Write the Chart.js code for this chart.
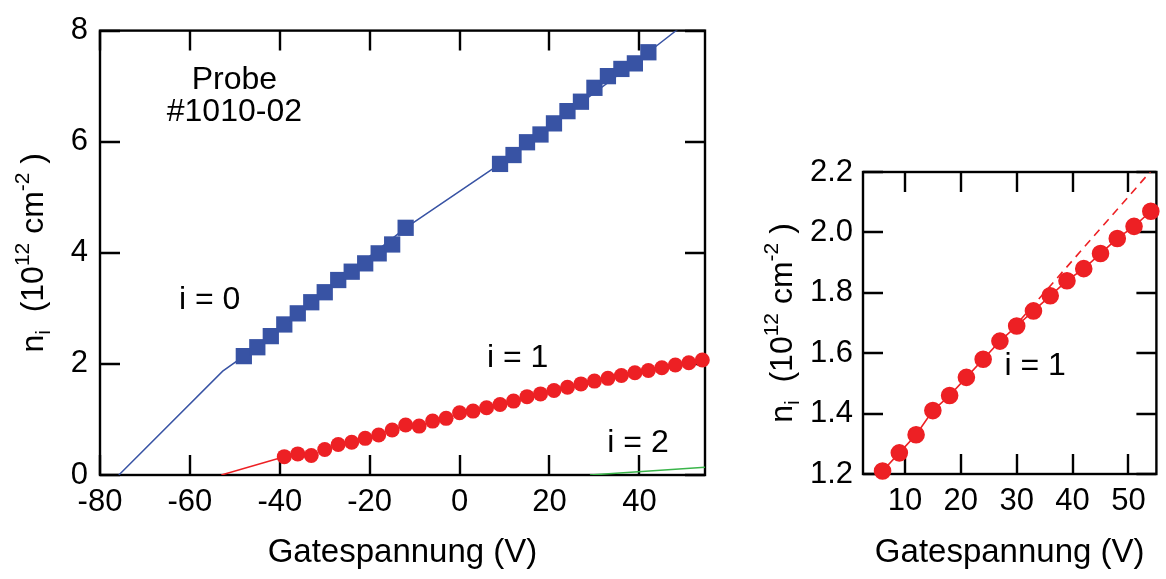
<!DOCTYPE html>
<html>
<head>
<meta charset="utf-8">
<script src="https://cdn.jsdelivr.net/npm/chart.js@4.4.1/dist/chart.umd.min.js"></script>
<style>
  body { margin: 0; background: #fff; }
  #wrap { position: relative; width: 1166px; height: 579px; }
  canvas { position: absolute; top: 0; }
  #left { left: 0; }
  #right { left: 730px; }
</style>
</head>
<body>
<div id="wrap">
  <canvas id="left" width="730" height="579"></canvas>
  <canvas id="right" width="436" height="579"></canvas>
</div>
<script>
// i = 0 (squares)
const i0X = [-48, -45, -42, -39, -36, -33, -30, -27, -24, -21, -18, -15, -12,
  9, 12, 15, 18, 21, 24, 27, 30, 33, 36, 39, 42];
const i0Y = [2.14, 2.30, 2.50, 2.71, 2.91, 3.11, 3.29, 3.51, 3.66, 3.81, 3.99, 4.15, 4.45,
  5.60, 5.76, 5.99, 6.13, 6.33, 6.55, 6.72, 6.97, 7.18, 7.31, 7.41, 7.61];
// model curve for i = 0
const i0LineX = [-75.8, -52.7, -48, -12, 9, 42, 48.5];
const i0LineY = [0, 1.87, 2.14, 4.45, 5.60, 7.61, 8.02];

// i = 1 (circles)
const i1X = [-39, -36, -33, -30, -27, -24, -21, -18, -15, -12, -9, -6, -3, 0, 3,
  6, 9, 12, 15, 18, 21, 24, 27, 30, 33, 36, 39, 42, 45, 48, 51, 54];
const i1Y = [0.33, 0.38, 0.35, 0.46, 0.55, 0.59, 0.66, 0.72, 0.81, 0.90, 0.88, 0.97, 1.02, 1.12, 1.15,
  1.21, 1.27, 1.33, 1.41, 1.46, 1.52, 1.58, 1.64, 1.69, 1.74, 1.79, 1.84, 1.88, 1.93, 1.98, 2.02, 2.07];
const i1LineX = [-53, -39];
const i1LineY = [0, 0.33];
// linear extrapolation (dashed, right panel)
const i1FitX = [29, 55];
const i1FitY = [1.675, 2.224];

// i = 2
const i2LineX = [29, 55];
const i2LineY = [0, 0.14];

// axes
const leftXTicks = [-80, -60, -40, -20, 0, 20, 40];
const leftYTicks = [0, 2, 4, 6, 8];
const rightXTicks = [10, 20, 30, 40, 50];
const rightYTicks = [1.2, 1.4, 1.6, 1.8, 2.0, 2.2];

const BLUE = "#3853a4";
const RED = "#ed2024";
const GREEN = "#3ab54a";
const FONT = "'Liberation Sans', Arial, Helvetica, sans-serif";

const pts = (xs, ys) => xs.map((x, k) => ({ x: x, y: ys[k] }));

// frame with inward ticks on all four sides, axis title with sub/superscripts, labels
const framePlugin = {
  id: "frame",
  beforeDatasetsDraw(chart, args, opts) {
    const { ctx, chartArea: a, scales } = chart;
    ctx.save();
    ctx.strokeStyle = "#000";
    ctx.lineWidth = 2.4;
    ctx.strokeRect(a.left, a.top, a.right - a.left, a.bottom - a.top);
    ctx.beginPath();
    scales.x.ticks.forEach((t) => {
      const px = Math.round(scales.x.getPixelForValue(t.value));
      ctx.moveTo(px, a.bottom);
      ctx.lineTo(px, a.bottom - 20);
      ctx.moveTo(px, a.top);
      ctx.lineTo(px, a.top + 20);
    });
    scales.y.ticks.forEach((t) => {
      const py = Math.round(scales.y.getPixelForValue(t.value));
      ctx.moveTo(a.left, py);
      ctx.lineTo(a.left + 20, py);
      ctx.moveTo(a.right, py);
      ctx.lineTo(a.right - 20, py);
    });
    ctx.stroke();
    ctx.restore();
  },
  afterDraw(chart, args, opts) {
    const { ctx, chartArea: a, scales } = chart;
    ctx.save();
    ctx.fillStyle = "#000";
    ctx.textAlign = "center";
    ctx.textBaseline = "middle";
    ctx.font = "32px " + FONT;
    (opts.notes || []).forEach((n) => {
      ctx.fillText(n.text, scales.x.getPixelForValue(n.x), scales.y.getPixelForValue(n.y));
    });

    // y title: n_i (10^12 cm^-2)
    const parts = [
      { t: "n", s: 32, dy: 0 },
      { t: "i", s: 21, dy: 7 },
      { t: "  (10", s: 32, dy: 0 },
      { t: "12", s: 21, dy: -14 },
      { t: " cm", s: 32, dy: 0 },
      { t: "-2", s: 21, dy: -14 },
      { t: " )", s: 32, dy: 0 },
    ];
    ctx.textAlign = "left";
    ctx.textBaseline = "alphabetic";
    let total = 0;
    parts.forEach((p) => {
      ctx.font = p.s + "px " + FONT;
      p.w = ctx.measureText(p.t).width;
      total += p.w;
    });
    ctx.translate(a.left - opts.titleOffset, (a.top + a.bottom) / 2);
    ctx.rotate(-Math.PI / 2);
    let cx = -total / 2;
    parts.forEach((p) => {
      ctx.font = p.s + "px " + FONT;
      ctx.fillText(p.t, cx, p.dy);
      cx += p.w;
    });
    ctx.restore();
  },
};

function axisX(min, max, ticks) {
  return {
    type: "linear",
    min: min,
    max: max,
    afterBuildTicks: (s) => { s.ticks = ticks.map((v) => ({ value: v })); },
    grid: { display: false, drawTicks: false },
    border: { display: false },
    ticks: { color: "#000", font: { family: FONT, size: 31 }, padding: 9, maxRotation: 0 },
    title: { display: true, text: "Gatespannung (V)", color: "#000",
      font: { family: FONT, size: 33 }, padding: { top: 0, bottom: 6 } },
  };
}

function axisY(min, max, ticks, fmt, pad) {
  return {
    type: "linear",
    min: min,
    max: max,
    afterBuildTicks: (s) => { s.ticks = ticks.map((v) => ({ value: v })); },
    grid: { display: false, drawTicks: false },
    border: { display: false },
    ticks: { color: "#000", font: { family: FONT, size: 31 }, padding: pad, callback: fmt },
  };
}

const leftChart = new Chart(document.getElementById("left"), {
  type: "scatter",
  data: {
    datasets: [
      { data: pts(i0X, i0Y), pointStyle: "rect", pointRadius: 11.5, backgroundColor: BLUE,
        borderWidth: 0, showLine: false, clip: false },
      { data: pts(i1X, i1Y), pointRadius: 7.5, backgroundColor: RED, borderColor: RED,
        borderWidth: 0, showLine: true, clip: false },
      { data: pts(i0LineX, i0LineY), showLine: true, pointRadius: 0, borderColor: BLUE, borderWidth: 1.5 },
      { data: pts(i1LineX, i1LineY), showLine: true, pointRadius: 0, borderColor: RED, borderWidth: 1.5 },
      { data: pts(i2LineX, i2LineY), showLine: true, pointRadius: 0, borderColor: GREEN, borderWidth: 1.5 },
    ],
  },
  options: {
    responsive: false,
    animation: false,
    events: [],
    layout: { padding: { top: 22, right: 25, bottom: 0, left: 0 } },
    plugins: {
      legend: { display: false },
      tooltip: { enabled: false },
      frame: {
        titleOffset: 57,
        notes: [
          { text: "Probe", x: -50.1, y: 7.11 },
          { text: "#1010-02", x: -50.1, y: 6.54 },
          { text: "i = 0", x: -55.6, y: 3.15 },
          { text: "i = 1", x: 12.9, y: 2.10 },
          { text: "i = 2", x: 39.7, y: 0.58 },
        ],
      },
    },
    scales: {
      x: Object.assign(axisX(-80, 54.6, leftXTicks), { afterFit: (s) => { s.height = 104; } }),
      y: Object.assign(axisY(0, 8, leftYTicks, (v) => v, 12), { afterFit: (s) => { s.width = 100; } }),
    },
  },
  plugins: [framePlugin],
});

const rightChart = new Chart(document.getElementById("right"), {
  type: "scatter",
  data: {
    datasets: [
      { data: pts(i1X, i1Y).filter((p) => p.x >= 6), pointRadius: 8, backgroundColor: RED,
        borderColor: RED, borderWidth: 1.6, showLine: true, clip: false },
      { data: pts(i1FitX, i1FitY), showLine: true, pointRadius: 0, borderColor: RED,
        borderWidth: 1.6, borderDash: [8, 6] },
    ],
  },
  options: {
    responsive: false,
    animation: false,
    events: [],
    layout: { padding: { top: 172, right: 1, bottom: 0, left: 0 } },
    plugins: {
      legend: { display: false },
      tooltip: { enabled: false },
      frame: {
        titleOffset: 71,
        notes: [{ text: "i = 1", x: 33.3, y: 1.558 }],
      },
    },
    scales: {
      x: Object.assign(axisX(2.5, 55, rightXTicks), { afterFit: (s) => { s.height = 105; } }),
      y: Object.assign(axisY(1.2, 2.2, rightYTicks, (v) => v.toFixed(1), 10), { afterFit: (s) => { s.width = 133; } }),
    },
  },
  plugins: [framePlugin],
});
</script>
</body>
</html>
